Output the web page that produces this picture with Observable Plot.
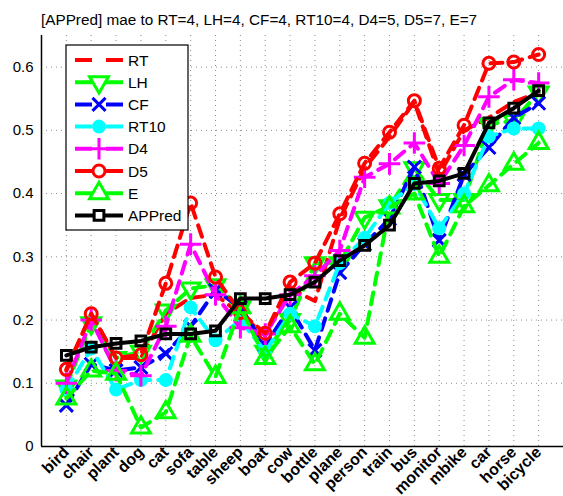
<!DOCTYPE html>
<html>
<head>
<meta charset="utf-8">
<script src="https://cdn.jsdelivr.net/npm/d3@7"></script>
<script src="https://cdn.jsdelivr.net/npm/@observablehq/plot@0.6"></script>
<style>
  html, body { margin: 0; padding: 0; background: white; }
  #wrap { position: relative; width: 563px; height: 496px; font-family: "Liberation Sans", Arial, sans-serif; }
  #title { position: absolute; left: 41px; top: 11px; font-size: 15.3px; white-space: nowrap; }
  #legend { position: absolute; left: 0; top: 0; pointer-events: none; }
</style>
</head>
<body>
<div id="wrap"><div id="title">[APPred] mae to RT=4, LH=4, CF=4, RT10=4, D4=5, D5=7, E=7</div></div>
<script>
const categories = ["bird","chair","plant","dog","cat","sofa","table","sheep","boat","cow","bottle","plane","person","train","bus","monitor","mbike","car","horse","bicycle"];
const RT     = [0.120,0.210,0.140,0.140,0.210,0.235,0.240,0.210,0.175,0.250,0.230,0.360,0.440,0.490,0.545,0.430,0.500,0.520,0.545,0.560];
const LH     = [0.095,0.195,0.140,0.150,0.215,0.250,0.255,0.220,0.150,0.200,0.290,0.290,0.362,0.380,0.440,0.390,0.390,0.510,0.515,0.560];
const CF     = [0.065,0.130,0.120,0.125,0.147,0.190,0.247,0.220,0.160,0.220,0.152,0.275,0.320,0.360,0.442,0.326,0.430,0.473,0.520,0.543];
const RT10   = [0.090,0.155,0.090,0.105,0.105,0.220,0.168,0.200,0.150,0.210,0.190,0.290,0.330,0.385,0.415,0.345,0.400,0.490,0.503,0.503];
const D4     = [0.100,0.200,0.120,0.112,0.190,0.320,0.240,0.188,0.178,0.240,0.270,0.310,0.426,0.447,0.480,0.416,0.476,0.553,0.580,0.575];
const D5     = [0.122,0.210,0.140,0.145,0.258,0.385,0.268,0.212,0.179,0.260,0.290,0.368,0.448,0.497,0.547,0.440,0.508,0.606,0.608,0.620];
const E      = [0.076,0.120,0.115,0.030,0.054,0.175,0.110,0.220,0.140,0.190,0.130,0.210,0.172,0.378,0.400,0.300,0.380,0.413,0.447,0.480];
const APPred = [0.144,0.157,0.163,0.167,0.178,0.178,0.183,0.234,0.234,0.240,0.260,0.294,0.318,0.350,0.416,0.420,0.432,0.512,0.535,0.563];
const yTicks = [0,0.1,0.2,0.3,0.4,0.5,0.6];

const series = [
  {name:"RT",     values:RT,     color:"#ff0000", dash:"12,8", symbol:null},
  {name:"LH",     values:LH,     color:"#00ff00", dash:"12,8", symbol:"triangle", rotate:180, r:7, fill:"none"},
  {name:"CF",     values:CF,     color:"#0000ff", dash:"12,8", symbol:"times", r:6, fill:"none"},
  {name:"RT10",   values:RT10,   color:"#00ffff", dash:"12,8", symbol:"circle", r:5.5, fill:"#00ffff"},
  {name:"D4",     values:D4,     color:"#ff00ff", dash:"12,8", symbol:"plus", r:7, fill:"none"},
  {name:"D5",     values:D5,     color:"#ff0000", dash:"12,8", symbol:"circle", r:6, fill:"none"},
  {name:"E",      values:E,      color:"#00ff00", dash:"12,8", symbol:"triangle", rotate:0, r:7, fill:"none"},
  {name:"APPred", values:APPred, color:"#000000", dash:null,   symbol:"square", r:5.5, fill:"none"}
];

const marks = [
  Plot.gridX(d3.range(1, categories.length + 1), {stroke:"#000", strokeOpacity:0.45, strokeDasharray:"1,4"}),
  Plot.gridY(yTicks.slice(1), {stroke:"#000", strokeOpacity:0.45, strokeDasharray:"1,4"})
];
for (const s of series) {
  const rows = s.values.map((v, i) => ({x: i + 1, y: v}));
  marks.push(Plot.line(rows, {x:"x", y:"y", stroke:s.color, strokeWidth:4, strokeDasharray:s.dash || undefined, strokeLinejoin:"round"}));
  if (s.symbol) {
    marks.push(Plot.dot(rows, {x:"x", y:"y", symbol:s.symbol, r:s.r, stroke:s.color, strokeWidth:3, fill:s.fill, rotate:s.rotate || 0}));
  }
}
marks.push(
  Plot.ruleX([0], {stroke:"#000", strokeWidth:1.5}),
  Plot.ruleY([0], {stroke:"#000", strokeWidth:1.5}),
  Plot.axisY({ticks:yTicks, tickSize:0, tickPadding:8, fontSize:15, label:null, tickFormat:d => d === 0 ? "0" : d.toFixed(1)}),
  Plot.axisX({ticks:d3.range(1, categories.length + 1), tickSize:0, tickPadding:3, tickRotate:-45, fontSize:16, fontWeight:"bold", label:null, tickFormat:d => categories[d - 1]})
);

const chart = Plot.plot({
  width:563, height:496,
  marginLeft:41, marginRight:0, marginTop:35, marginBottom:50,
  x:{domain:[0, 21], label:null},
  y:{domain:[0, 0.65], label:null},
  style:{fontFamily:"Liberation Sans, Arial, sans-serif", background:"white", color:"#000"},
  marks
});
const wrap = document.getElementById("wrap");
wrap.insertBefore(chart, wrap.firstChild);

// legend overlay
const svg = d3.select(wrap).append("svg").attr("id","legend").attr("width",563).attr("height",496);
svg.append("rect").attr("x",66).attr("y",45).attr("width",122).attr("height",185).attr("fill","white").attr("stroke","#000").attr("stroke-width",1.2);
const symMap = {triangle:d3.symbolTriangle, times:d3.symbolTimes, circle:d3.symbolCircle, plus:d3.symbolPlus, square:d3.symbolSquare};
series.forEach((s, i) => {
  const cy = 60 + i * 22.2;
  const g = svg.append("g");
  g.append("line").attr("x1",75).attr("x2",123).attr("y1",cy).attr("y2",cy)
    .attr("stroke",s.color).attr("stroke-width",4).attr("stroke-dasharray", s.dash ? "17,14" : null);
  if (s.symbol) {
    g.append("path").attr("d", d3.symbol(symMap[s.symbol], s.r * s.r * Math.PI)())
      .attr("transform", `translate(99,${cy}) rotate(${s.rotate || 0})`)
      .attr("fill", s.fill === "none" ? "white" : s.fill).attr("stroke", s.color).attr("stroke-width",3);
  }
  g.append("text").attr("x",128).attr("y",cy).attr("dy","0.36em").attr("font-size",15.5).text(s.name);
});
</script>
</body>
</html>
